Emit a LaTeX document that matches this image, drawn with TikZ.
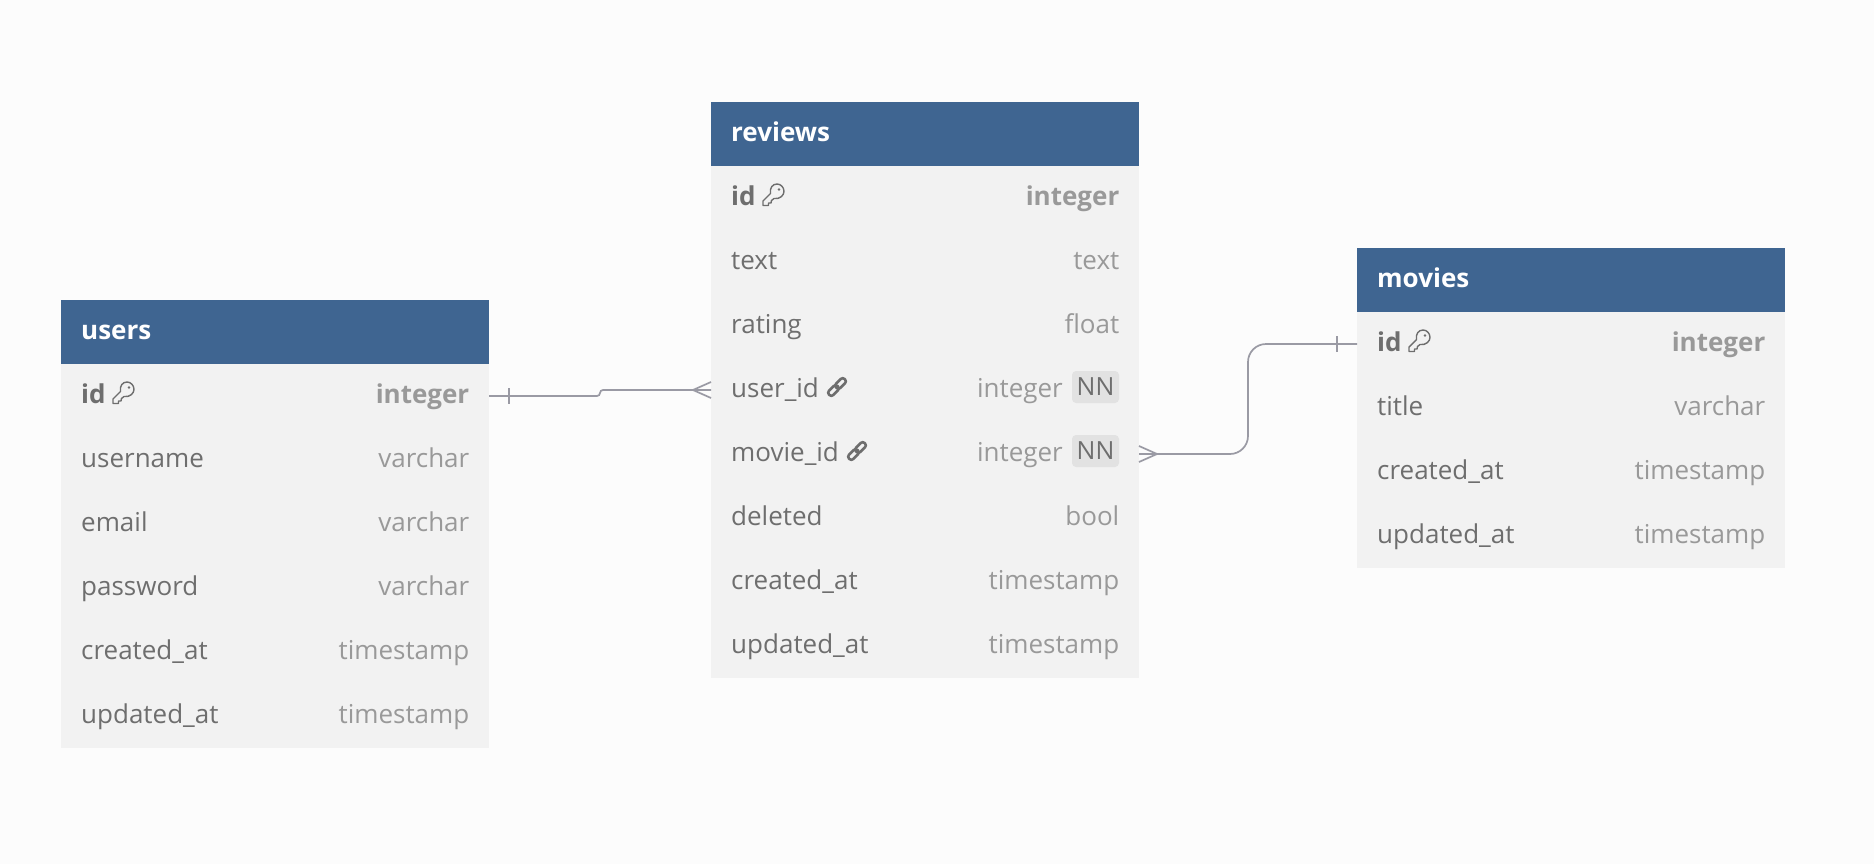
\documentclass[tikz,border=0pt]{standalone}
\usepackage{fontspec}
\setmainfont{Open Sans}
\usepackage{xcolor}
\usetikzlibrary{calc}

\definecolor{pagebg}{HTML}{FCFCFC}
\definecolor{headblue}{HTML}{3F6591}
\definecolor{rowgray}{HTML}{F2F2F2}
\definecolor{namegray}{HTML}{6E6E6E}
\definecolor{typegray}{HTML}{999999}
\definecolor{badgegray}{HTML}{E2E2E2}
\definecolor{linkgray}{HTML}{9A9AA4}

\begin{document}
\begin{tikzpicture}[x=1pt, y=-1pt,
    head/.style={rectangle, fill=headblue, minimum width=428pt, minimum height=64pt, inner sep=0pt, outer sep=0pt},
    rowbox/.style={rectangle, fill=rowgray, minimum width=428pt, minimum height=64pt, inner sep=0pt, outer sep=0pt},
    title/.style={anchor=west, inner sep=0pt, text=white, font=\fontsize{26}{30}\selectfont\bfseries, text height=20pt, text depth=4.6pt},
    fname/.style={anchor=west, inner sep=0pt, text=namegray, font=\fontsize{26}{30}\selectfont, text height=20pt, text depth=4.6pt},
    ftype/.style={anchor=east, inner sep=0pt, text=typegray, font=\fontsize{26}{30}\selectfont, text height=20pt, text depth=4.6pt},
    badge/.style={rectangle, fill=badgegray, rounded corners=4pt, minimum width=47pt, minimum height=32pt, inner sep=0pt, text=namegray, font=\fontsize{25}{28}\selectfont},
    conn/.style={draw=linkgray, line width=1.7pt},
    keyicon/.pic={
        \draw[namegray, line width=1.4pt, line join=round] (0.5,3.5) .. controls (6,4.5) and (10.5,0.5) .. (10.5,-3.5) .. controls (10.5,-8) and (7,-11) .. (3.5,-11) .. controls (-1,-11) and (-4,-7) .. (-3,-1.5) -- (-10.5,6) -- (-10.5,10.5) -- (-5,10.5) -- (-5,8) -- (-2.5,8) -- (-2,5.5) -- cycle;
        \fill[namegray] (5.5,-5.5) circle (1.4pt);
    },
    linkicon/.pic={
        \draw[namegray, line width=2.6pt, rounded corners=2.6pt, rotate=45] (-11,-3) rectangle (1,3);
        \draw[namegray, line width=2.6pt, rounded corners=2.6pt, rotate=45] (-1,-3) rectangle (11,3);
    }]

    % Background
    \path[fill=pagebg, use as bounding box] (0,0) rectangle (1874,864);

    % Users table
    \node[head] (users) at (275,332) {};
    \node[title] (userstitle) at (81,332) {users};
    \node[rowbox] (usersid) at (275,396) {};
    \node[rowbox] (usersname) at (275,460) {};
    \node[rowbox] (usersemail) at (275,524) {};
    \node[rowbox] (userspass) at (275,588) {};
    \node[rowbox] (userscreated) at (275,652) {};
    \node[rowbox] (usersupdated) at (275,716) {};
    \node[fname, font=\fontsize{26}{30}\selectfont\bfseries] (usersidn) at (81,396) {id};
    \node[fname] (usersnamen) at (81,460) {username};
    \node[fname] (usersemailn) at (81,524) {email};
    \node[fname] (userspassn) at (81,588) {password};
    \node[fname] (userscreatedn) at (81,652) {created\_at};
    \node[fname] (usersupdatedn) at (81,716) {updated\_at};
    \node[ftype, font=\fontsize{26}{30}\selectfont\bfseries] (usersidt) at (469.5,396) {integer};
    \node[ftype] (usersnamet) at (469.5,460) {varchar};
    \node[ftype] (usersemailt) at (469.5,524) {varchar};
    \node[ftype] (userspasst) at (469.5,588) {varchar};
    \node[ftype] (userscreatedt) at (469.5,652) {timestamp};
    \node[ftype] (usersupdatedt) at (469.5,716) {timestamp};
    \pic at (123.5,393) {keyicon};

    % Reviews table
    \node[head] (reviews) at (925,134) {};
    \node[title] (reviewstitle) at (731,134) {reviews};
    \node[rowbox] (reviewsid) at (925,198) {};
    \node[rowbox] (reviewstext) at (925,262) {};
    \node[rowbox] (reviewsrating) at (925,326) {};
    \node[rowbox] (reviewsuser) at (925,390) {};
    \node[rowbox] (reviewsmovie) at (925,454) {};
    \node[rowbox] (reviewsdeleted) at (925,518) {};
    \node[rowbox] (reviewscreated) at (925,582) {};
    \node[rowbox] (reviewsupdated) at (925,646) {};
    \node[fname, font=\fontsize{26}{30}\selectfont\bfseries] (reviewsidn) at (731,198) {id};
    \node[fname] (reviewstextn) at (731,262) {text};
    \node[fname] (reviewsratingn) at (731,326) {rating};
    \node[fname] (reviewsusern) at (731,390) {user\_id};
    \node[fname] (reviewsmovien) at (731,454) {movie\_id};
    \node[fname] (reviewsdeletedn) at (731,518) {deleted};
    \node[fname] (reviewscreatedn) at (731,582) {created\_at};
    \node[fname] (reviewsupdatedn) at (731,646) {updated\_at};
    \node[ftype, font=\fontsize{26}{30}\selectfont\bfseries] (reviewsidt) at (1119.5,198) {integer};
    \node[ftype] (reviewstextt) at (1119.5,262) {text};
    \node[ftype] (reviewsratingt) at (1119.5,326) {float};
    \node[badge] (reviewsuserb) at (1095.5,387) {NN};
    \node[badge] (reviewsmovieb) at (1095.5,451) {NN};
    \node[ftype] (reviewsusert) at (1063,390) {integer};
    \node[ftype] (reviewsmoviet) at (1063,454) {integer};
    \node[ftype] (reviewsdeletedt) at (1119.5,518) {bool};
    \node[ftype] (reviewscreatedt) at (1119.5,582) {timestamp};
    \node[ftype] (reviewsupdatedt) at (1119.5,646) {timestamp};
    \pic at (773.5,195) {keyicon};
    \pic at (837,387) {linkicon};
    \pic at (857,451) {linkicon};

    % Movies table
    \node[head] (movies) at (1571,280) {};
    \node[title] (moviestitle) at (1377,280) {movies};
    \node[rowbox] (moviesid) at (1571,344) {};
    \node[rowbox] (moviestitlerow) at (1571,408) {};
    \node[rowbox] (moviescreated) at (1571,472) {};
    \node[rowbox] (moviesupdated) at (1571,536) {};
    \node[fname, font=\fontsize{26}{30}\selectfont\bfseries] (moviesidn) at (1377,344) {id};
    \node[fname] (moviestitlen) at (1377,408) {title};
    \node[fname] (moviescreatedn) at (1377,472) {created\_at};
    \node[fname] (moviesupdatedn) at (1377,536) {updated\_at};
    \node[ftype, font=\fontsize{26}{30}\selectfont\bfseries] (moviesidt) at (1765.5,344) {integer};
    \node[ftype] (moviestitlet) at (1765.5,408) {varchar};
    \node[ftype] (moviescreatedt) at (1765.5,472) {timestamp};
    \node[ftype] (moviesupdatedt) at (1765.5,536) {timestamp};
    \pic at (1419.5,341) {keyicon};

    % Connectors
    \draw[conn, rounded corners=3pt] (usersid.east) -- (600,396) -- (600,390) -- (reviewsuser.west);
    \draw[conn] ($(usersid.east)+(20,-8)$) -- ++(0,16);
    \draw[conn] ($(reviewsuser.west)+(0,-8)$) -- ++(-18,8) -- ++(18,8);
    \draw[conn, rounded corners=18pt] (reviewsmovie.east) -- (1248,454) -- (1248,344) -- (moviesid.west);
    \draw[conn] ($(reviewsmovie.east)+(0,-8)$) -- ++(18,8) -- ++(-18,8);
    \draw[conn] ($(moviesid.west)+(-20,-8)$) -- ++(0,16);
\end{tikzpicture}
\end{document}
